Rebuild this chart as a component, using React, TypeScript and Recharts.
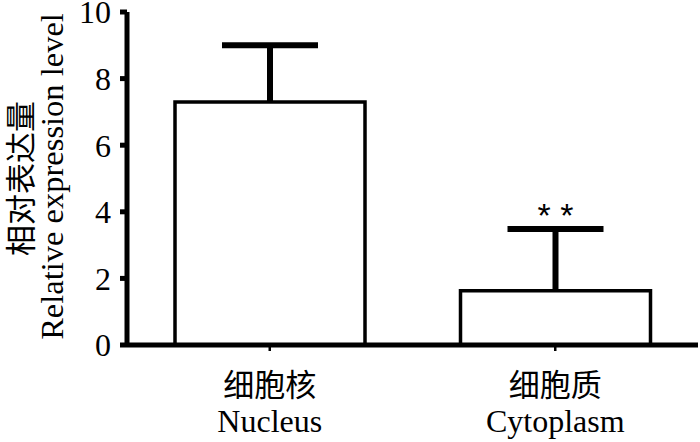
import { Bar, BarChart, Label, LabelList, XAxis, YAxis } from "recharts";

const categoriesZh = ["细胞核", "细胞质"];
const categoriesEn = ["Nucleus", "Cytoplasm"];
const means = [7.3, 1.63];
const errors = [1.7, 1.85];
const marks = ["", "* *"];
const yTicks = [0, 2, 4, 6, 8, 10];

const data = categoriesEn.map((name, i) => ({
  name,
  mean: means[i],
  err: errors[i],
  mark: marks[i],
}));

const serif = '"Liberation Serif", "Times New Roman", serif';
const cjk = '"Noto Sans CJK SC", sans-serif';

// only the upper half of the error bar, drawn on a stacked segment
function ErrorShape(props: any) {
  const { x, y, width, height } = props;
  const cx = x + width / 2;
  return (
    <g>
      <line x1={cx} y1={y + height} x2={cx} y2={y} stroke="#000" strokeWidth={6} />
      <line x1={cx - 48} y1={y} x2={cx + 48} y2={y} stroke="#000" strokeWidth={6} />
    </g>
  );
}

function CategoryTick(props: any) {
  const { x, y, payload, index } = props;
  return (
    <g>
      <text x={x} y={y + 43} textAnchor="middle" fontFamily={cjk} fontSize={31} fill="#000">
        {categoriesZh[index]}
      </text>
      <text x={x} y={y + 79} textAnchor="middle" fontFamily={serif} fontSize={32} fill="#000">
        {payload.value}
      </text>
    </g>
  );
}

function YTitle(props: any) {
  const { viewBox } = props;
  const cy = viewBox.y + viewBox.height / 2;
  return (
    <g>
      <text
        transform={`translate(32, ${cy}) rotate(-90)`}
        textAnchor="middle"
        fontFamily={cjk}
        fontSize={31}
        fill="#000"
      >
        相对表达量
      </text>
      <text
        transform={`translate(63, ${cy - 2}) rotate(-90)`}
        textAnchor="middle"
        fontFamily={serif}
        fontSize={32.5}
        fill="#000"
      >
        Relative expression level
      </text>
    </g>
  );
}

export default function App() {
  return (
    <div style={{ position: "absolute", left: 0, top: 0, background: "#fff" }}>
      <BarChart
        width={700}
        height={442}
        data={data}
        margin={{ top: 12, right: 2, bottom: 0, left: 0 }}
        barSize={190}
      >
        <XAxis
          dataKey="name"
          height={97}
          axisLine={{ stroke: "#000", strokeWidth: 5 }}
          tickLine={{ stroke: "#000", strokeWidth: 2.5 }}
          tickSize={6}
          tickMargin={2}
          tick={<CategoryTick />}
          interval={0}
        />
        <YAxis
          width={127}
          domain={[0, 10]}
          ticks={yTicks}
          interval={0}
          axisLine={{ stroke: "#000", strokeWidth: 5 }}
          tickLine={{ stroke: "#000", strokeWidth: 5 }}
          tickSize={7}
          tickMargin={9}
          tick={{ fontFamily: serif, fontSize: 32, fill: "#000" }}
        >
          <Label content={<YTitle />} />
        </YAxis>
        <Bar
          dataKey="mean"
          stackId="a"
          fill="#fff"
          stroke="#000"
          strokeWidth={3.5}
          isAnimationActive={false}
        />
        <Bar dataKey="err" stackId="a" shape={<ErrorShape />} isAnimationActive={false}>
          <LabelList
            dataKey="mark"
            position="top"
            offset={2}
            fill="#000"
            fontFamily='"Liberation Sans", Arial, sans-serif'
            fontSize={34}
          />
        </Bar>
      </BarChart>
    </div>
  );
}
